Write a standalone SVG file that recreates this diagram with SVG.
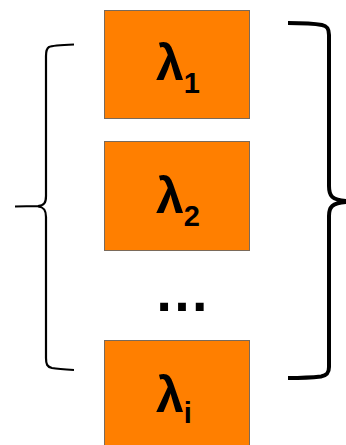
<svg xmlns="http://www.w3.org/2000/svg" width="346" height="445" viewBox="0 0 346 445">
  <style>
    .box { fill: #ff7f00; stroke: #7a6a5a; stroke-width: 1; }
    .lam { font-family: "Liberation Sans", Arial, sans-serif; font-weight: bold; fill: #000; }
    .brace { fill: none; stroke: #000; stroke-linecap: butt; stroke-linejoin: round; }
  </style>
  <rect width="346" height="445" fill="#fff"/>

  <g id="connectors">
    <path class="brace" stroke-width="2.2" d="M74,44.5 C62,45 52,45.5 49,47 C46.5,48.5 46,51 46,56 L46,196 C46,203 44,205.5 38,206 L15,206.5 M38,206.5 C44,207 46,210 46,217 L46,358 C46,364 47,367 52,368 C58,369 66,369.5 74,370"/>
    <path class="brace" stroke-width="4" d="M288,23 C300,23 314,23.5 322,25 C327,26 329,28.5 329,35 L329,186 C329,196 332,200 346,201 M346,202 C332,203 329,207 329,216 L329,367 C329,373 327,375.5 321,376.5 C312,377.5 300,378 288,378"/>
  </g>

  <g id="node-1">
    <rect class="box" x="104.5" y="10.5" width="145" height="108"/>
    <text class="lam" x="156" y="80" font-size="50">λ<tspan font-size="29" dy="13">1</tspan></text>
  </g>
  <g id="node-2">
    <rect class="box" x="104.5" y="141.5" width="145" height="109"/>
    <text class="lam" x="156" y="213" font-size="50">λ<tspan font-size="29" dy="13">2</tspan></text>
  </g>
  <g id="ellipsis">
    <text class="lam" x="182" y="311" font-size="56" text-anchor="middle">…</text>
  </g>
  <g id="node-i">
    <rect class="box" x="104.5" y="340.5" width="145" height="110"/>
    <text class="lam" x="156" y="412" font-size="50">λ<tspan font-size="29" dy="11">i</tspan></text>
  </g>
</svg>
